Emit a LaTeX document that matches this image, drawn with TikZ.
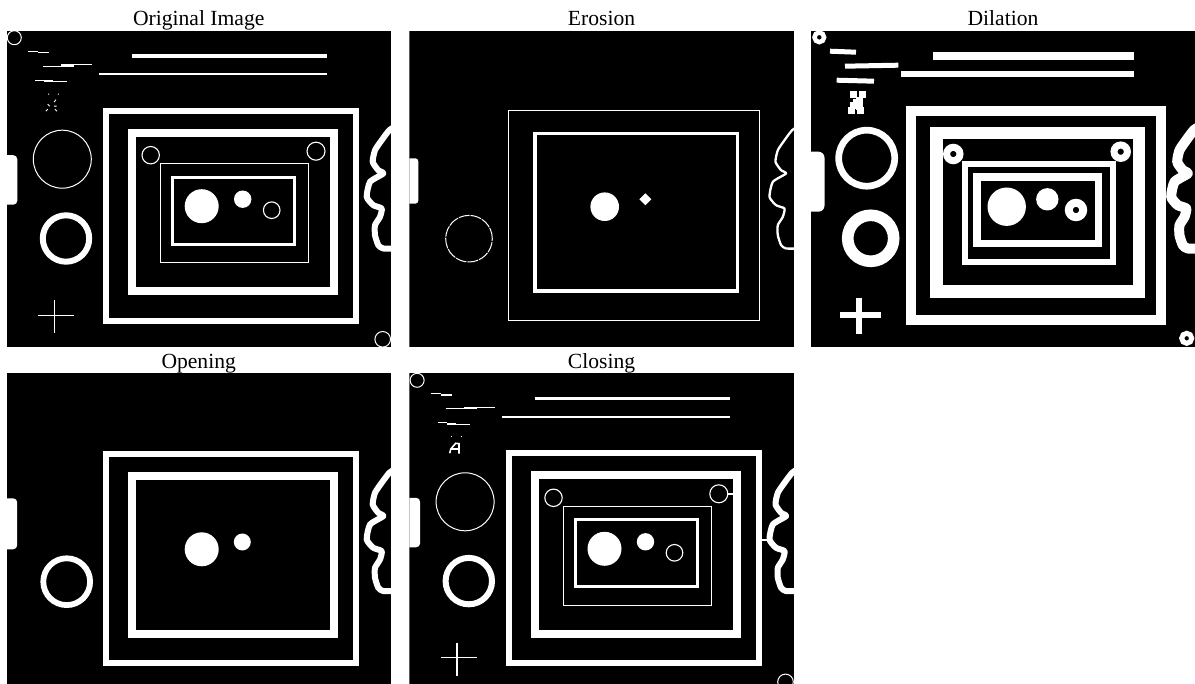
\documentclass[tikz,border=0pt]{standalone}
\usepackage{fontspec}
\setmainfont{Liberation Serif}
\begin{document}
\begin{tikzpicture}[x=1pt,y=-1pt,
  ttl/.style={anchor=base,inner sep=0pt,font=\fontsize{21.6}{26}\selectfont},
  wl/.style={draw=white,line width=#1},
  wf/.style={fill=white}]
\useasboundingbox (0,0) rectangle (1195,684);
\fill[white] (0,0) rectangle (1195,684);
\newcommand\wiggle[1]{\draw[white,line width=#1,line join=round,line cap=round] plot[smooth,tension=0.35] coordinates {(390,95) (382.8,99.5) (375.2,109.5) (368.5,119.5) (366.2,131.2) (371.8,139.5) (376.8,142.8) (363.5,151.2) (360.2,166.2) (366.8,174.5) (375.2,177.8) (373.5,186.2) (368.5,194.5) (368.5,204.5) (371.8,214.5) (376.8,217.8) (390,217.8)};}
\newcommand\panel{\clip (0,0) rectangle (384.5,316); \fill[black] (0,0) rectangle (384.5,316);}
\newcommand\topsegs{%
  \draw[wl=1.2] (21.2,20.5)--(31.8,20.5) (31.8,21.8)--(42.8,21.8);
  \draw[wl=1.2] (36.2,35.5)--(54.5,35.5) (67.8,34.2)--(85.2,34.2);
  \draw[wl=2.2] (54.5,34.8)--(67.8,34.8);
  \draw[wl=1.2] (28.5,49.5)--(37.8,49.5) (46.2,51.2)--(60.5,51.2);
  \draw[wl=2.2] (37.8,50.5)--(46.2,50.5);
  \draw[wl=3.3] (125.2,25.2)--(320.8,25.2);
  \draw[wl=1.8] (92.5,43.5)--(320.5,43.5);}
\newcommand\innerset{%
  \draw[wl=1] (7.8,7) circle[radius=7pt];
  \draw[wl=1] (55.8,128.5) circle[radius=29pt];
  \draw[wl=6] (59.5,207.8) circle[radius=23.2pt];
  \draw[wl=1.3] (31.8,284.5)--(67.5,284.5) (47.8,269.5)--(47.8,302.2);
  \draw[wl=5.7] (99.7,80) rectangle (349.8,290);
  \draw[wl=8] (125.3,102.2) rectangle (327.3,260.8);
  \draw[wl=1.1] (144.2,124.5) circle[radius=8.7pt];
  \draw[wl=1.1] (309.5,120.5) circle[radius=9pt];
  \draw[wl=1] (154.2,132.8) rectangle (301.8,231.8);
  \draw[wl=3.3] (166,146.5) rectangle (288,213.5);
  \fill[wf] (195.2,175.5) circle[radius=17pt];
  \fill[wf] (236.2,168.5) circle[radius=8.7pt];
  \draw[wl=1.1] (265.2,179.5) circle[radius=8.3pt];
  \draw[wl=1] (376.2,308.6) circle[radius=7.8pt];
  \fill[wf,rounded corners=4pt] (-4,124.5) rectangle (10.8,174);
  \wiggle{6}}
% ---------- titles
\node[ttl] (t1) at (198.7,26) {Original Image};
\node[ttl] (t2) at (601.5,26) {Erosion};
\node[ttl] (t3) at (1003,26) {Dilation};
\node[ttl] (t4) at (198.7,368.6) {Opening};
\node[ttl] (t5) at (601.5,368.6) {Closing};
% ---------- Original
\begin{scope}[shift={(6.5,30.7)}]
  \panel
  \topsegs
  \innerset
  \draw[wl=0.9] (41.7,63.5)--(42.7,63.5) (51.3,63.5)--(52.3,63.5)
    (47.5,71.5)--(49.5,69) (41.2,73.5)--(43.2,75.5) (47.5,75.5)--(50,75.5)
    (39.2,80.5)--(41.2,78.5) (48.5,78.5)--(50.5,80.5);
\end{scope}
% ---------- Erosion
\begin{scope}[shift={(409.3,30.7)}]
  \panel
  \draw[wl=1] (99.6,80) rectangle (350,290);
  \draw[wl=3.3] (125.6,102.6) rectangle (328.2,260.3);
  \fill[wf] (195.4,176) circle[radius=14.3pt];
  \fill[wf] (236,162.6)--(242,168.6)--(236,174.6)--(230,168.6)--cycle;
  \draw[wl=1,dash pattern=on 11pt off 1pt] (59.7,208) circle[radius=23.3pt];
  \fill[wf,rounded corners=3pt] (-4,127.6) rectangle (9,173);
  \wiggle{2.3}
\end{scope}
% ---------- Dilation
\begin{scope}[shift={(811,30.7)}]
  \panel
  \draw[wl=4.5] (8.3,6.6) circle[radius=4.8pt];
  \draw[wl=5] (19,20.5)--(45,21.5);
  \draw[wl=5] (34,35.5)--(87.3,34.5);
  \draw[wl=5] (25.7,49.5)--(63,50.5);
  \foreach \p in {(42.2,63.5),(51.8,63.5),(48.5,70.2),(42.2,74.5),(48.8,75.5),(40.2,79.5),(49.5,79.5),(45.5,72)}
    \fill[wf] \p ++(-3.6,-3.6) rectangle ++(7.2,7.2);
  \draw[wl=8] (122.3,25)--(323.3,25);
  \draw[wl=6] (90,43.3)--(323.3,43.3);
  \draw[wl=6.7] (55.7,127.5) circle[radius=28pt];
  \draw[wl=11.6] (59.7,207.6) circle[radius=23pt];
  \draw[wl=6] (29,284.3)--(70,284.3) (48,267)--(48,303.8);
  \draw[wl=10] (99.7,80.3) rectangle (349.7,289.3);
  \draw[wl=12.7] (125.3,102.3) rectangle (328,260.6);
  \draw[wl=7] (142.3,123.3) circle[radius=6.7pt];
  \draw[wl=7] (309.7,121) circle[radius=6.7pt];
  \draw[wl=6] (154.3,133.8) rectangle (301.7,231.5);
  \draw[wl=7.5] (166.2,146.5) rectangle (287.7,212.6);
  \fill[wf] (195.7,176) circle[radius=19.2pt];
  \fill[wf] (236.3,168.6) circle[radius=11.2pt];
  \draw[wl=8] (265,179.3) circle[radius=7.2pt];
  \draw[wl=5] (375.7,307.6) circle[radius=5pt];
  \fill[wf,rounded corners=6pt] (-6,121) rectangle (13.5,181);
  \wiggle{10}
\end{scope}
% ---------- Opening
\begin{scope}[shift={(6.5,373.3)}]
  \panel
  \draw[wl=6] (99.8,80.4) rectangle (349.8,289.7);
  \draw[wl=8.3] (125.3,102.5) rectangle (327.3,260.9);
  \fill[wf] (195.2,176) circle[radius=17pt];
  \fill[wf] (235.8,168.7) circle[radius=8.5pt];
  \draw[wl=5.8] (60.2,208.4) circle[radius=23.4pt];
  \fill[wf,rounded corners=4pt] (-4,125) rectangle (10.7,176);
  \wiggle{6}
\end{scope}
% ---------- Closing
\begin{scope}[shift={(409.3,373.3)}]
  \panel
  \topsegs
  \innerset
  \draw[wl=0.9] (41.7,63.5)--(42.7,63.5) (51.3,63.5)--(52.3,63.5);
  \draw[wl=1.6,line join=miter] (40.4,80)--(41.5,75.7)--(46.4,70)--(49.7,70.4)--(49.7,80.4) (41.5,75.7)--(49.7,75.7);
  \draw[wl=1.5] (318,120.7)--(324,120.7);
  \draw[wl=1.5] (352.4,166.7)--(362,166.7);
\end{scope}
\end{tikzpicture}
\end{document}
